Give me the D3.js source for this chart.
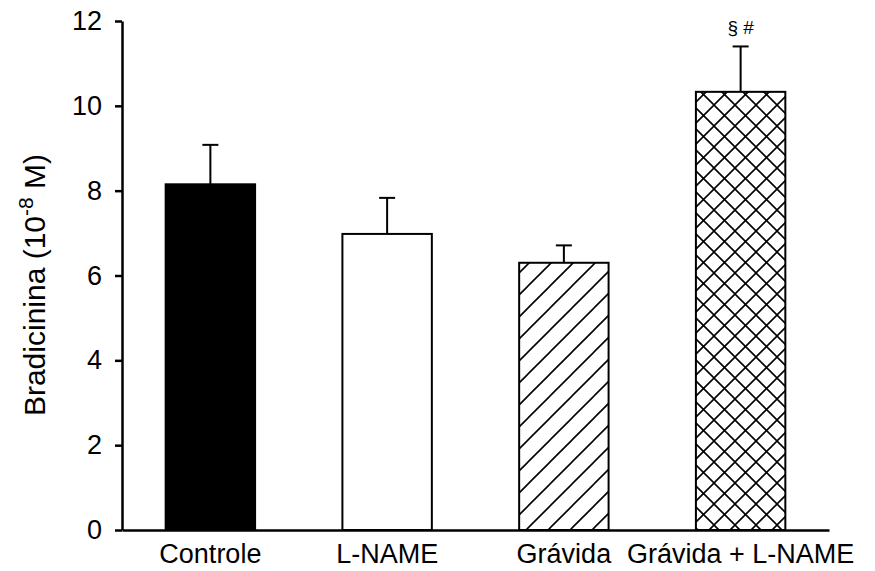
<!DOCTYPE html>
<html><head><meta charset="utf-8">
<script src="https://cdn.jsdelivr.net/npm/d3@7"></script>
<style>body{margin:0;background:#fff}svg{display:block}text{font-family:"Liberation Sans",Arial,sans-serif}</style>
</head><body>
<script>
const categories = ["Controle", "L-NAME", "Grávida", "Grávida + L-NAME"];
const means = [8.15, 6.98, 6.30, 10.33];
const errors = [0.93, 0.85, 0.41, 1.07];
const fills = ["black", "white", "hatch", "cross"];
const annotations = ["", "", "", "§ #"];
const yTicks = [0, 2, 4, 6, 8, 10, 12];

const W = 875, H = 571;
const svg = d3.select("body").append("svg").attr("width", W).attr("height", H);
const defs = svg.append("defs");
const hp = defs.append("pattern").attr("id","hatch").attr("patternUnits","userSpaceOnUse").attr("width",22).attr("height",22);
hp.append("path").attr("d","M-5.5,5.5 L5.5,-5.5 M0,22 L22,0 M16.5,27.5 L27.5,16.5").attr("stroke","#000").attr("stroke-width",1.6);
const cp = defs.append("pattern").attr("id","cross").attr("patternUnits","userSpaceOnUse").attr("width",21).attr("height",21);
cp.append("path").attr("d","M-5.25,5.25 L5.25,-5.25 M0,21 L21,0 M15.75,26.25 L26.25,15.75 M-5.25,15.75 L5.25,26.25 M0,0 L21,21 M15.75,-5.25 L26.25,5.25").attr("stroke","#000").attr("stroke-width",1.6);

const x = d3.scaleBand().domain(categories).range([122, 829]).paddingInner(0.494).paddingOuter(0.247);
const y = d3.scaleLinear().domain([0, 12]).range([530, 21]);

const g = svg.append("g");
g.selectAll("rect.bar").data(categories).join("rect")
  .attr("class","bar")
  .attr("x", d => x(d))
  .attr("y", (d,i) => y(means[i]))
  .attr("width", x.bandwidth())
  .attr("height", (d,i) => y(0) - y(means[i]))
  .attr("fill", (d,i) => fills[i] === "black" ? "#000" : fills[i] === "white" ? "#fff" : `url(#${fills[i]})`)
  .attr("stroke", "#000").attr("stroke-width", 2);

const cx = d => x(d) + x.bandwidth()/2;
g.selectAll("line.err").data(categories).join("line")
  .attr("x1", cx).attr("x2", cx)
  .attr("y1", (d,i) => y(means[i])).attr("y2", (d,i) => y(means[i] + errors[i]))
  .attr("stroke","#000").attr("stroke-width",2);
g.selectAll("line.cap").data(categories).join("line")
  .attr("x1", d => cx(d) - 8).attr("x2", d => cx(d) + 8)
  .attr("y1", (d,i) => y(means[i] + errors[i])).attr("y2", (d,i) => y(means[i] + errors[i]))
  .attr("stroke","#000").attr("stroke-width",2);

g.selectAll("text.ann").data(categories).join("text")
  .attr("x", cx).attr("y", (d,i) => y(means[i] + errors[i]) - 12)
  .attr("text-anchor","middle").attr("font-size",19)
  .text((d,i) => annotations[i]);

const yAxis = svg.append("g").attr("transform","translate(122,0)")
  .call(d3.axisLeft(y).tickValues(yTicks).tickSize(7).tickPadding(13).tickSizeOuter(0));
yAxis.select(".domain").attr("stroke","#000").attr("stroke-width",2.5);
yAxis.selectAll(".tick line").attr("stroke","#000").attr("stroke-width",2.5);
yAxis.selectAll(".tick text").attr("font-size",27).attr("fill","#000").attr("font-family","Liberation Sans, Arial, sans-serif");

const xAxis = svg.append("g").attr("transform","translate(0,530)")
  .call(d3.axisBottom(x).tickSize(0).tickPadding(14).tickSizeOuter(0));
xAxis.select(".domain").attr("stroke","#000").attr("stroke-width",2.5);
xAxis.selectAll(".tick text").attr("font-size",27).attr("fill","#000").attr("font-family","Liberation Sans, Arial, sans-serif");

const yl = svg.append("text").attr("transform","translate(45,285) rotate(-90)")
  .attr("text-anchor","middle").attr("font-size",30);
yl.append("tspan").text("Bradicinina (10");
yl.append("tspan").attr("dy",-12).attr("font-size",21).text("-8");
yl.append("tspan").attr("dy",12).text(" M)");
</script>
</body></html>
